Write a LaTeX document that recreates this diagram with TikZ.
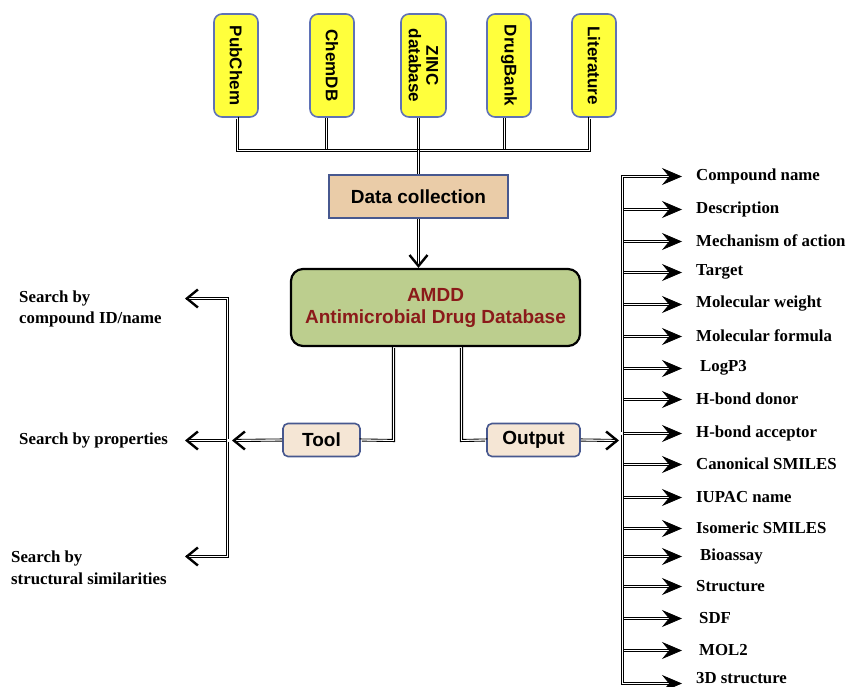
\documentclass[tikz,border=0pt]{standalone}
\usepackage{fontspec}
\setmainfont{Liberation Serif}
\newfontfamily\sansf{Liberation Sans}
\usetikzlibrary{arrows.meta}
\definecolor{srcy}{HTML}{FFFF3C}
\definecolor{srcb}{HTML}{5F72B6}
\definecolor{dcfill}{HTML}{EACCA8}
\definecolor{boxb}{HTML}{47588F}
\definecolor{amfill}{HTML}{BCCE8E}
\definecolor{amred}{HTML}{8B1A1A}
\definecolor{tofill}{HTML}{F5E6D5}
% double lines drawn as two parallel thin black lines
\newcommand\dblv[2]{%
  \draw[thinl] ([xshift=-1.1pt]#1) -- ([xshift=-1.1pt]#2);
  \draw[thinl] ([xshift=1.1pt]#1) -- ([xshift=1.1pt]#2);}
\newcommand\dblh[2]{%
  \draw[thinl] ([yshift=-1.1pt]#1) -- ([yshift=-1.1pt]#2);
  \draw[thinl] ([yshift=1.1pt]#1) -- ([yshift=1.1pt]#2);}
\newcommand\dblL[5]{%
  \draw[thinl] ([shift={(#1)}]#3) -- ([shift={(#1)}]#4) -- ([shift={(#1)}]#5);
  \draw[thinl] ([shift={(#2)}]#3) -- ([shift={(#2)}]#4) -- ([shift={(#2)}]#5);}
\begin{document}
\begin{tikzpicture}[x=1pt,y=-1pt,
  thinl/.style={draw, line width=0.85pt, line join=miter},
  stltip/.style={draw, fill, line width=0.8pt, -{Stealth[length=20pt,width=17pt,inset=7pt]}},
  barbtip/.style={draw, line width=0.4pt, -{Straight Barb[length=11pt,width=18pt,line width=2.4pt]}},
  src/.style={draw=srcb, fill=srcy, line width=1.6pt, rounded corners=8pt,
    minimum width=103pt, minimum height=44pt, inner sep=0pt, rotate=-90,
    font=\sansf\bfseries\fontsize{17}{17.5}\selectfont, align=center},
  sbox/.style={draw=boxb, line width=1.6pt, inner sep=0pt,
    font=\sansf\bfseries\fontsize{19}{22}\selectfont, align=center},
  item/.style={anchor=west, inner sep=0pt, font=\bfseries\fontsize{16.8}{20}\selectfont},
  lab/.style={anchor=west, inner sep=0pt, align=left, font=\bfseries\fontsize{16.8}{21.5}\selectfont}
]
\useasboundingbox (0,0) rectangle (847,687);

% source boxes
\node[src] (pub) at (236,65.5) {PubChem};
\node[src] (chem) at (332,65.5) {ChemDB};
\node[src, minimum height=45pt] (zinc) at (423.5,65.5) {ZINC\\database};
\node[src] (drug) at (509,65.5) {DrugBank};
\node[src] (lit) at (594,65.5) {Literature};

\node[sbox, fill=dcfill, minimum width=179pt, minimum height=43pt] (dc) at (418.5,196.5) {Data collection};
\node[sbox, draw=black, line width=2.2pt, fill=amfill, rounded corners=12pt, text=amred,
  minimum width=289pt, minimum height=77pt] (amdd) at (435.5,307.5) {AMDD\\Antimicrobial Drug Database};
\node[sbox, fill=tofill, rounded corners=5pt, minimum width=77pt, minimum height=33pt] (tool) at (321.5,440) {Tool};
\node[sbox, fill=tofill, rounded corners=5pt, minimum width=93pt, minimum height=33pt] (out) at (533.5,440) {Output};

% coordinates
\coordinate (bus) at (418.5,150.5);
\coordinate (pb) at ([xshift=1.5pt]pub.east);
\coordinate (cb) at ([xshift=-5.5pt]chem.east);
\coordinate (zb) at ([xshift=-5pt]zinc.east);
\coordinate (db) at ([xshift=-4.5pt]drug.east);
\coordinate (lb) at ([xshift=-4.5pt]lit.east);
\coordinate (pbc) at (pb |- bus);
\coordinate (lbc) at (lb |- bus);
\coordinate (cbc0) at (cb |- bus);
\coordinate (dbc0) at (db |- bus);
\coordinate (cbc) at ([yshift=1.1pt]cbc0);
\coordinate (dbc) at ([yshift=1.1pt]dbc0);
\coordinate (dctip) at (dc.south |- amdd.north);
\coordinate (dcend) at ([yshift=2pt]dctip);
\coordinate (tl) at (393.5,440.5);
\coordinate (ol) at (461.5,440.5);
\coordinate (tltop) at (amdd.south -| tl);
\coordinate (oltop) at (amdd.south -| ol);
\coordinate (lv1) at (227.5,298.5);
\coordinate (lv2) at (227.5,440.5);
\coordinate (lv2l) at (226.4,440.5);
\coordinate (lv3) at (227.5,556.5);
\coordinate (a1) at (185,298.5);
\coordinate (a2) at (185,440.5);
\coordinate (a3) at (185,556.5);
\coordinate (a1e) at (187,298.5);
\coordinate (a2e) at (187,440.5);
\coordinate (a3e) at (187,556.5);
\coordinate (tt) at (232,440.5);
\coordinate (tte) at (234,440.5);
\coordinate (ot) at (619,440.5);
\coordinate (ote) at (617,440.5);

\node[lab] (s1) at (19,309) {Search by\\compound ID/name};
\node[lab] (s2) at (19,440) {Search by properties};
\node[lab] (s3) at (11,568) {Search by\\structural similarities};

\foreach \i/\y/\ty/\x/\t in {1/176.5/176/696/Compound name, 2/209.5/209/696/Description, 3/241.5/241/696/Mechanism of action,
  4/272.5/272/696/Target, 5/304.5/304/696/Molecular weight, 6/336.5/336/696/Molecular formula, 7/368.5/368/700/LogP3,
  8/399.5/399/696/H-bond donor, 9/433.5/433/696/H-bond acceptor, 10/464.5/464/696/Canonical SMILES, 11/497.5/497/696/IUPAC name,
  12/528.5/528/696/Isomeric SMILES, 13/556.5/556/700/Bioassay, 14/586.5/586/696/Structure, 15/618.5/618/699/SDF,
  16/650.5/650/699/MOL2, 17/683.5/678/696/3D structure}{
  \coordinate (v\i) at (622.5,\y);
  \coordinate (vs\i) at (623.6,\y);
  \coordinate (t\i) at (682,\y);
  \coordinate (te\i) at (672,\y);
  \node[item] (r\i) at (\x,\ty) {\t};
}

% connectors: top bus
\dblL{-1.1,1.1}{1.1,-1.1}{pb}{pbc}{bus}
\dblL{1.1,1.1}{-1.1,-1.1}{lb}{lbc}{bus}
\dblv{cb}{cbc}
\dblv{db}{dbc}
\dblv{zb}{dc.north}
\dblv{dc.south}{dcend}
\draw[barbtip] ([yshift=1pt]dctip) -- (dctip);

% tool / output branches
\dblL{1.1,1.1}{-1.1,-1.1}{tltop}{tl}{tool.east}
\dblL{-1.1,1.1}{1.1,-1.1}{oltop}{ol}{out.west}

% left side
\dblL{1.1,-1.1}{-1.1,1.1}{a1e}{lv1}{lv2}
\dblL{1.1,1.1}{-1.1,-1.1}{lv2}{lv3}{a3e}
\dblh{lv2l}{a2e}
\dblh{tool.west}{tte}
\foreach \c in {a1,a2,a3,tt}{ \draw[barbtip] ([xshift=1pt]\c) -- (\c); }

% right side
\dblL{-1.1,-1.1}{1.1,1.1}{te1}{v1}{v9}
\dblL{-1.1,1.1}{1.1,-1.1}{v9}{v17}{te17}
\foreach \i in {2,...,16}{ \dblh{vs\i}{te\i} }
\foreach \i in {1,...,17}{ \draw[stltip] ([xshift=-1pt]t\i) -- (t\i); }
\dblh{out.east}{ote}
\draw[barbtip] ([xshift=-1pt]ot) -- (ot);
\end{tikzpicture}
\end{document}
